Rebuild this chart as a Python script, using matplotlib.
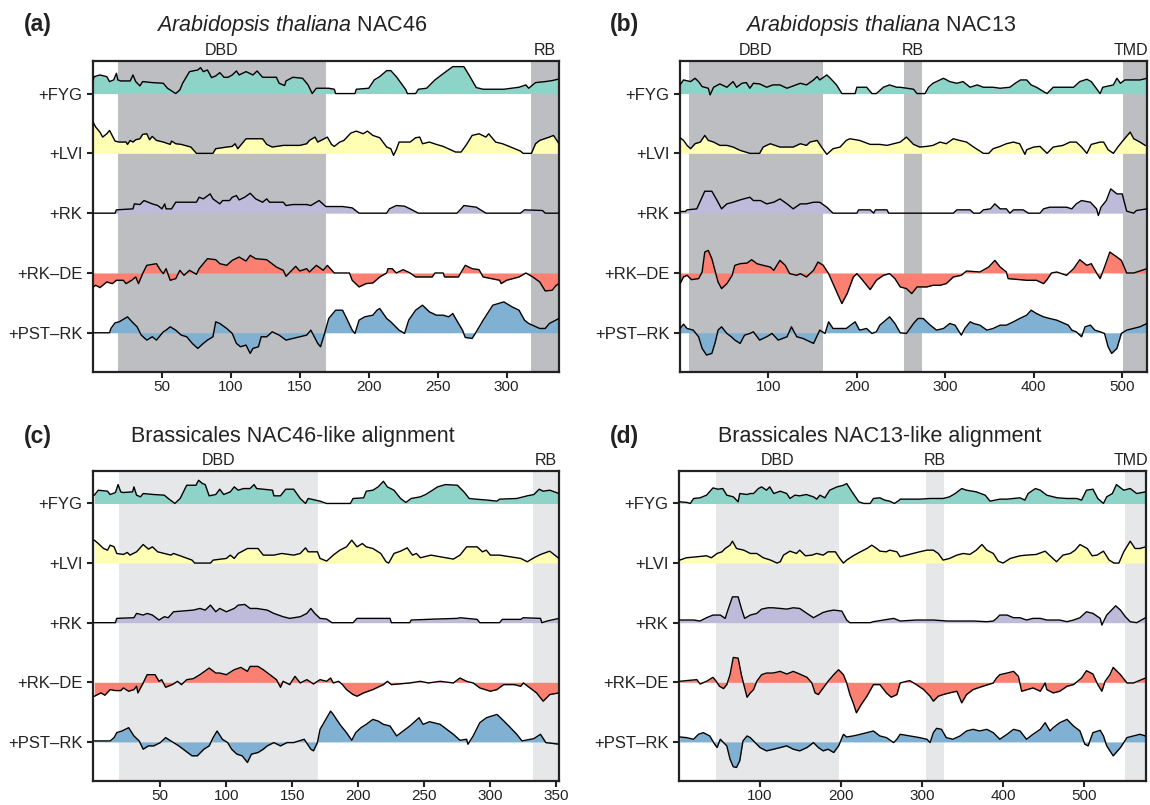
import numpy as np
import matplotlib
matplotlib.use('Agg')
import matplotlib.pyplot as plt
import matplotlib.transforms as mtransforms

plt.rcParams['font.family'] = ['Liberation Sans', 'DejaVu Sans']
plt.rcParams['mathtext.fontset'] = 'custom'
plt.rcParams['mathtext.it'] = 'Liberation Sans:italic'
plt.rcParams['mathtext.rm'] = 'Liberation Sans'

TRACKS = ['+FYG', '+LVI', '+RK', '+RK\u2013DE', '+PST\u2013RK']
COLORS = ['#8DD3C7', '#FFFFB3', '#BEBADA', '#FB8072', '#80B1D3']

# ---------------- panel (a): Arabidopsis thaliana NAC46 ----------------
A_FYG_X = [0,1,5,10,12,15,17,18,20,27,29,31,34,36,43,51,54,60,63,65,70,76,78,80,83,86,89,92,95,98,101,104,106,111,116,119,123,133,135,139,140,145,152,156,159,162,171,175,176,190,191,200,204,208,213,216,220,227,228,234,236,242,248,256,261,269,272,278,283,298,309,314,316,321,328,333,337]
A_FYG_Y = [41,51,56,51,36,41,61,41,38,38,56,36,23,36,33,31,16,0,11,31,66,71,78,66,71,48,53,63,49,49,56,68,56,66,56,68,49,49,31,24,38,49,46,26,0,16,16,13,0,0,13,16,41,51,69,69,51,11,0,0,13,16,41,66,81,81,61,18,13,13,19,26,16,33,36,39,43]
A_LVI_X = [0,2,5,7,10,12,16,19,24,25,27,29,31,34,36,39,41,43,46,51,56,57,60,64,71,75,87,89,97,101,103,105,109,111,123,126,130,138,150,155,157,161,163,170,173,175,179,182,187,191,196,199,203,208,213,216,218,220,222,230,234,237,239,244,249,254,263,267,271,275,280,285,287,292,297,303,310,312,318,321,324,331,334,338]
A_LVI_Y = [94,79,64,49,59,69,37,34,34,27,39,34,41,44,57,59,41,51,39,34,27,37,29,27,19,0,0,14,19,21,29,14,34,44,44,27,19,24,24,29,39,49,34,49,27,21,34,39,61,67,59,67,54,47,19,14,-6,11,34,34,47,49,29,34,27,21,4,4,27,54,59,49,59,34,29,19,7,0,0,29,39,49,54,29]
A_RK_X = [0,16,17,29,30,34,37,43,47,50,52,53,57,60,75,77,80,85,87,92,94,99,101,104,106,110,114,118,123,126,128,138,140,145,155,158,164,168,169,181,188,193,213,215,220,226,230,236,264,267,269,278,285,310,313,326,328,338]
A_RK_Y = [0,0,10,13,28,26,38,28,23,13,28,13,13,33,33,48,43,58,43,28,38,38,48,53,40,48,60,43,33,43,33,33,23,26,26,23,38,23,20,20,16,0,0,13,23,21,13,0,0,13,23,18,0,0,10,8,0,0]
A_RKDE_X = [0,2,5,10,14,17,22,24,28,31,33,36,39,46,49,51,53,56,60,63,66,70,75,77,80,83,89,92,97,101,106,111,114,118,126,133,138,140,143,147,150,155,157,162,167,170,175,186,188,193,198,203,208,213,214,217,220,225,230,234,246,248,254,255,265,270,275,280,283,295,296,300,309,314,319,324,328,333,336,338]
A_RKDE_Y = [-42,-37,-44,-27,-32,-22,-22,-32,-22,-12,-32,-2,23,28,8,-2,13,-22,-17,8,-7,8,-4,13,28,43,40,28,23,38,48,36,53,43,40,18,8,-10,3,20,6,13,3,23,8,23,0,0,-22,-42,-32,-30,-12,0,13,13,0,10,0,-12,-12,0,0,-12,-12,23,13,10,-12,-22,-32,-22,-12,0,-12,-27,-54,-52,-37,-32]
A_PST_X = [0,12,13,16,19,25,29,32,35,39,43,46,51,53,56,60,64,68,72,76,80,83,87,89,92,97,101,104,107,111,114,116,120,122,126,130,135,140,145,150,155,158,163,165,168,171,176,181,184,188,190,193,197,203,206,208,213,216,222,226,229,234,239,244,249,254,258,261,263,268,270,275,278,283,290,298,304,309,313,316,324,328,331,338]
A_PST_Y = [0,0,13,30,33,48,30,18,-7,-22,-12,-22,3,8,18,8,-7,-12,-32,-47,-32,-22,-12,33,28,13,-2,-32,-42,-37,-62,-47,-42,-12,-12,3,-7,-22,-17,-12,-7,8,-32,-42,-2,43,68,68,43,8,-2,38,48,53,68,73,43,33,8,-2,38,68,83,63,53,53,48,58,43,8,-14,-17,3,38,83,93,78,68,38,28,13,13,28,43]
A_DOMAINS = [('DBD', 18, 169), ('RB', 318, 338)]

# ---------------- panel (b): Arabidopsis thaliana NAC13 ----------------
B_FYG_X = [0,4,12,17,21,25,32,34,38,45,53,60,64,70,75,79,83,90,98,105,113,121,128,136,143,151,155,158,166,170,177,183,198,200,211,217,222,230,237,245,249,264,268,277,281,286,294,298,305,313,320,328,336,343,354,362,373,379,385,392,397,403,411,415,422,437,445,452,460,465,475,478,490,494,498,503,513,520,528]
B_FYG_Y = [26,41,36,46,36,21,16,-4,19,29,19,36,19,31,33,16,31,29,19,26,26,16,23,31,26,41,51,41,56,46,26,0,0,19,19,0,0,19,26,19,19,13,0,0,19,31,41,46,36,31,36,19,26,19,19,16,19,31,41,41,26,19,6,0,19,19,19,36,43,36,0,19,26,46,31,41,41,41,46]
B_LVI_X = [0,4,8,12,17,23,28,32,38,45,53,60,68,79,90,94,102,113,121,128,136,143,147,155,160,166,173,181,188,192,203,215,226,234,249,256,264,271,279,286,294,301,309,316,324,332,339,343,349,354,362,369,377,384,390,392,400,407,415,422,433,441,448,454,460,465,475,479,484,490,495,501,509,513,520,526]
B_LVI_Y = [47,39,24,14,29,34,54,39,34,24,24,19,9,0,0,19,29,19,19,19,29,24,34,39,19,-3,14,19,39,44,39,27,27,24,34,49,27,19,21,24,34,29,44,39,34,19,7,0,0,14,21,29,34,29,-3,11,19,21,0,19,24,34,34,19,0,27,34,34,11,0,19,39,64,44,34,24]
B_RK_X = [0,6,8,19,28,36,42,47,53,60,68,79,83,91,98,106,113,121,128,136,143,151,158,166,173,200,202,215,219,221,234,236,249,309,313,328,332,339,343,351,356,362,369,373,377,388,394,407,411,418,437,443,448,454,464,471,473,476,482,487,494,500,505,513,516,528]
B_RK_Y = [5,5,10,13,66,66,38,13,28,33,40,48,38,38,28,33,43,28,13,28,28,33,33,18,0,0,10,10,0,10,10,0,0,0,10,10,0,0,10,13,28,13,13,0,10,10,0,0,13,18,18,13,28,38,33,13,-7,18,38,73,58,58,6,0,8,13]
B_RKDE_X = [0,4,8,13,21,25,28,32,36,40,43,47,53,59,62,68,76,81,87,94,102,106,113,119,124,132,136,143,151,156,162,168,173,183,189,196,200,205,215,222,230,237,243,249,256,262,268,279,286,294,301,309,318,324,339,349,356,362,369,371,384,392,403,411,415,420,426,437,445,452,460,465,471,475,480,486,494,499,505,513,528]
B_RKDE_Y = [-32,-12,-7,-20,-17,3,63,68,43,3,-27,-47,-32,-7,23,28,30,40,28,23,18,8,38,23,-2,-7,-2,-12,8,33,23,-2,-32,-92,-62,-12,-2,-17,-50,-22,-7,-2,-17,-42,-47,-62,-42,-42,-37,-37,-32,-12,-7,6,3,18,38,18,3,-17,-20,-22,-22,-32,-20,0,3,-7,13,40,23,28,0,-17,18,63,48,38,0,0,13]
B_PST_X = [0,4,8,15,21,25,30,36,40,43,47,53,58,62,68,73,79,83,90,98,104,111,121,126,132,139,151,158,164,168,173,181,188,198,203,211,217,222,226,237,243,249,256,264,269,275,283,290,298,305,311,318,322,328,332,339,347,354,362,369,377,384,392,397,403,411,418,426,433,439,443,448,454,458,464,469,475,480,484,488,494,499,505,520,528]
B_PST_Y = [13,26,13,8,-12,-47,-67,-62,-27,8,18,-2,-12,-22,-32,-7,-2,3,-22,-12,-2,-22,-12,18,-12,-17,-32,8,-2,33,13,13,13,33,8,13,-2,3,23,48,28,0,-2,28,43,43,23,8,13,28,23,-7,13,33,28,23,8,13,23,23,33,43,53,68,58,48,43,38,30,23,8,3,-12,18,23,8,3,-2,-42,-62,-47,-2,8,18,28]
B_DOMAINS = [('DBD', 10, 161.5), ('RB', 253, 274), ('TMD', 500.5, 528)]

# ---------------- panel (c): Brassicales NAC46-like alignment ----------------
C_FYG_X = [0,3,10,12,16,18,20,22,29,30,32,35,37,45,53,56,61,65,70,77,79,82,84,87,92,95,98,103,106,109,113,118,121,123,128,135,136,141,145,151,156,160,162,171,176,194,196,204,206,211,215,219,222,227,232,236,240,247,251,255,260,266,275,280,284,289,298,305,307,320,328,333,337,340,345,352]
C_FYG_Y = [25,40,37,27,33,57,35,33,35,50,25,20,30,27,25,15,0,15,55,55,70,60,57,23,27,43,27,35,50,40,45,45,57,45,43,40,23,23,43,43,15,0,15,7,0,0,15,17,37,40,50,67,50,40,15,3,15,20,27,37,50,57,55,35,15,13,10,7,13,15,23,27,43,37,40,30]
C_LVI_X = [0,3,7,10,12,15,17,22,25,27,32,37,41,44,48,53,58,60,65,74,76,88,90,100,103,106,109,116,124,128,136,142,151,156,160,162,169,171,176,181,186,191,195,199,203,206,211,217,221,223,227,232,237,241,244,247,255,262,272,277,282,290,294,297,300,307,315,323,328,333,338,345,352]
C_LVI_Y = [69,59,44,39,54,49,29,26,32,24,34,56,42,49,34,29,24,29,22,9,0,0,9,14,24,14,29,44,44,24,24,29,24,29,46,34,34,14,6,24,39,49,69,49,59,49,44,29,4,0,29,36,46,24,29,16,24,19,12,24,49,49,34,39,24,24,19,14,4,16,26,36,14]
C_RK_X = [0,16,17,30,32,37,40,44,49,53,56,60,75,80,84,88,92,95,100,106,109,114,118,123,131,136,143,148,156,161,164,167,171,176,180,196,199,224,225,239,240,259,275,277,290,292,307,309,323,325,338,339,343,352]
C_RK_Y = [0,0,13,15,28,23,28,23,8,18,15,33,38,43,38,53,33,43,33,43,53,55,43,43,38,28,18,13,18,28,43,28,13,11,0,0,13,13,0,0,8,11,13,15,10,0,0,10,10,15,13,0,5,13]
C_RKDE_X = [0,5,8,12,16,20,22,26,30,32,33,37,40,46,49,51,54,59,63,66,70,75,80,87,92,95,100,106,111,116,118,124,128,133,138,141,143,148,152,156,161,166,171,176,179,181,185,188,191,196,199,204,211,219,222,225,239,247,253,262,272,277,282,287,292,300,305,310,318,323,325,330,335,340,345,352]
C_RKDE_Y = [-42,-32,-39,-22,-25,-25,-17,-27,-22,-12,-32,-2,23,23,3,8,-15,-7,3,-7,8,11,23,43,28,28,23,38,45,33,48,48,38,23,8,-15,3,-7,18,-2,8,-5,8,3,13,-2,3,-7,-22,-37,-42,-32,-22,-7,3,-7,-2,3,-2,3,-2,13,3,-2,-17,-27,-22,-7,-7,-12,-2,-17,-32,-57,-37,-32]
C_PST_X = [0,12,15,17,21,26,30,34,37,41,45,50,54,56,60,64,69,74,78,83,87,90,93,97,101,104,108,112,116,119,124,128,131,136,141,146,151,159,164,166,169,171,179,181,186,191,195,198,202,206,211,215,219,224,229,234,239,246,249,254,262,267,272,277,282,283,287,292,297,305,309,314,320,324,333,338,342,352]
C_PST_Y = [3,3,13,28,33,43,18,3,-22,-12,-12,-2,13,8,-2,-12,-27,-42,-42,-22,-12,13,33,8,-2,-22,-37,-42,-62,-37,-32,-22,-12,-2,-12,-2,-2,8,-22,-27,-2,38,93,83,53,28,5,28,43,53,68,63,53,48,18,33,48,73,53,61,53,38,23,5,8,-7,18,58,73,83,68,48,23,3,10,23,-2,-7]
C_DOMAINS = [('DBD', 19, 169.5), ('RB', 332, 352)]

# ---------------- panel (d): Brassicales NAC13-like alignment ----------------
D_FYG_X = [1,10,14,18,26,34,42,48,54,59,67,73,75,84,88,92,98,102,108,112,117,125,133,137,143,149,157,166,170,174,180,186,195,203,207,211,215,222,228,236,240,248,254,260,266,272,273,297,310,326,334,341,349,355,367,378,384,396,405,421,427,431,440,446,454,467,479,491,497,503,511,517,524,528,535,540,549,557,565,576]
D_FYG_Y = [5,3,0,15,17,25,47,43,45,25,20,5,30,27,30,30,45,50,40,50,30,37,30,15,25,23,27,20,13,25,17,40,50,55,60,45,30,5,0,0,15,17,10,7,0,10,13,13,15,15,20,30,45,40,35,25,7,13,13,17,10,30,45,40,25,17,15,15,10,40,43,15,0,20,30,57,40,45,30,35]
D_LVI_X = [1,9,22,34,40,47,53,57,63,66,71,80,88,96,104,113,121,125,129,137,145,149,156,164,170,178,184,193,197,201,203,207,215,224,232,238,244,248,256,260,269,273,281,289,297,306,314,320,326,334,343,351,359,367,374,380,388,394,400,409,421,429,441,452,458,466,474,483,489,495,504,510,516,524,531,537,543,549,557,563,569,576]
D_LVI_Y = [9,16,19,22,16,29,34,44,54,66,44,39,29,29,16,9,0,4,24,36,29,39,22,24,29,24,34,34,19,6,0,9,22,34,44,54,44,36,34,39,34,19,24,29,34,39,39,29,9,14,24,29,26,39,56,39,29,6,0,14,22,24,26,36,22,4,24,29,39,56,44,22,24,36,9,0,0,34,66,44,44,49]
D_RK_X = [1,18,26,34,42,51,57,61,66,73,77,81,88,96,102,110,116,125,133,141,149,158,166,172,178,184,191,201,207,211,236,240,265,273,293,314,331,348,364,380,388,392,396,405,413,421,429,437,446,454,470,479,487,495,503,511,520,522,528,534,539,545,551,557,565,576]
D_RK_Y = [8,8,5,15,23,23,13,43,78,78,43,13,23,28,41,45,45,43,41,45,43,28,15,23,31,35,38,35,8,0,0,3,13,5,8,8,5,5,5,3,5,13,23,23,15,15,8,13,13,8,8,3,8,15,33,28,13,-7,23,38,51,38,18,3,0,15]
D_RKDE_X = [1,9,22,26,34,42,46,50,55,59,63,67,73,77,80,84,88,92,96,102,108,116,125,133,141,149,158,164,168,172,178,184,191,197,203,207,211,215,219,225,232,240,248,256,262,269,273,281,285,293,302,310,314,320,326,334,343,349,355,363,375,388,392,396,405,413,419,423,437,446,452,454,462,470,479,487,497,503,511,517,522,526,532,536,545,553,561,576]
D_RKDE_Y = [3,5,8,-5,3,15,3,-12,-19,-7,23,75,73,23,-7,-45,-32,-22,3,23,28,28,33,25,33,25,15,-2,-32,-37,-17,3,23,38,23,-2,-37,-62,-92,-67,-42,-7,-7,-32,-45,-37,-2,3,5,-7,-22,-42,-57,-42,-37,-32,-27,-62,-37,-22,-12,-2,13,23,28,33,18,-27,-17,-27,-2,-22,-32,-27,-12,-7,13,35,25,-7,-27,3,23,45,23,-2,-2,13]
D_PST_X = [1,9,18,24,30,38,44,47,51,59,63,67,71,75,79,84,88,94,100,108,117,125,133,141,149,158,166,172,178,184,191,197,203,207,215,224,232,240,248,256,265,269,273,285,297,306,310,314,318,324,330,338,347,355,363,371,380,388,396,405,413,421,429,437,446,452,458,462,470,479,487,495,501,505,511,520,524,528,536,545,553,561,569,576]
D_PST_Y = [15,13,8,23,28,18,-7,-17,8,-12,-52,-75,-77,-57,3,18,13,-2,-17,-27,-22,-17,-12,-22,-27,-17,-2,-17,-27,-22,-32,-12,23,15,18,23,28,33,18,13,-2,8,23,18,13,8,-2,28,41,38,13,8,18,33,38,33,38,28,8,23,38,33,8,23,38,58,33,43,58,68,48,33,-7,-12,28,35,18,-12,-42,-17,13,18,23,18]
D_DOMAINS = [('DBD', 45.4, 197.5), ('RB', 305, 327), ('TMD', 551, 576.5)]

# ---------------- layout ----------------
W, H = 1150, 805
SPACING = 180
fig = plt.figure(figsize=(W / 100, H / 100), dpi=100)
renderer = fig.canvas.get_renderer()

panels = [
    dict(rect=(93, 61, 559, 372), data=[(A_FYG_X, A_FYG_Y), (A_LVI_X, A_LVI_Y), (A_RK_X, A_RK_Y), (A_RKDE_X, A_RKDE_Y), (A_PST_X, A_PST_Y)],
         xlim=(0, 338), xticks=[50, 100, 150, 200, 250, 300], dom=A_DOMAINS, shade='#BDBEC2',
         letter='(a)', lx=24, title=r'$\mathit{Arabidopsis\ thaliana}$ NAC46', tx=292, ty=25),
    dict(rect=(680, 61, 1147, 372), data=[(B_FYG_X, B_FYG_Y), (B_LVI_X, B_LVI_Y), (B_RK_X, B_RK_Y), (B_RKDE_X, B_RKDE_Y), (B_PST_X, B_PST_Y)],
         xlim=(0, 528), xticks=[100, 200, 300, 400, 500], dom=B_DOMAINS, shade='#BDBEC2',
         letter='(b)', lx=610, title=r'$\mathit{Arabidopsis\ thaliana}$ NAC13', tx=880, ty=25),
    dict(rect=(93, 471, 559, 781), data=[(C_FYG_X, C_FYG_Y), (C_LVI_X, C_LVI_Y), (C_RK_X, C_RK_Y), (C_RKDE_X, C_RKDE_Y), (C_PST_X, C_PST_Y)],
         xlim=(-1, 352), xticks=[50, 100, 150, 200, 250, 300, 350], dom=C_DOMAINS, shade='#E6E7E9',
         letter='(c)', lx=24, title='Brassicales NAC46-like alignment', tx=293, ty=436),
    dict(rect=(679, 471, 1146, 781), data=[(D_FYG_X, D_FYG_Y), (D_LVI_X, D_LVI_Y), (D_RK_X, D_RK_Y), (D_RKDE_X, D_RKDE_Y), (D_PST_X, D_PST_Y)],
         xlim=(0, 576.5), xticks=[100, 200, 300, 400, 500], dom=D_DOMAINS, shade='#E6E7E9',
         letter='(d)', lx=610, title='Brassicales NAC13-like alignment', tx=880, ty=436),
]

for p in panels:
    l, t, r, b = p['rect']
    ax = fig.add_axes([l / W, 1 - b / H, (r - l) / W, (b - t) / H])
    ax.set_xlim(*p['xlim'])
    ax.set_ylim(-4 * SPACING - 118, 98)
    trans = mtransforms.blended_transform_factory(ax.transData, ax.transAxes)
    for name, s, e in p['dom']:
        ax.axvspan(s, e, color=p['shade'], lw=0, zorder=0)
        txt = ax.text((s + e) / 2, 1.01, name, transform=trans, ha='center', va='bottom',
                      fontsize=11.5, color='#222222', clip_on=False)
        bb = txt.get_window_extent(renderer=renderer)
        if bb.x1 > W - 1:
            # keep the label inside the figure: right-align it at the figure edge
            xd = ax.transData.inverted().transform((W - 1.5, 0))[0]
            txt.set_x(xd)
            txt.set_ha('right')
    for k, (xs, ys) in enumerate(p['data']):
        n = min(len(xs), len(ys))
        x = np.array(xs[:n], dtype=float)
        y = np.array(ys[:n], dtype=float)
        base = -SPACING * k
        ax.fill_between(x, base, base + y, color=COLORS[k], lw=0, zorder=2)
        ax.plot(x, base + y, color='black', lw=1.0, zorder=3)
    ax.set_yticks([-SPACING * k for k in range(5)])
    ax.set_yticklabels(TRACKS)
    ax.set_xticks(p['xticks'])
    ax.tick_params(direction='out', length=4.5, width=1.5, colors='#222222',
                   labelcolor='#222222')
    ax.tick_params(axis='y', labelsize=12, pad=3)
    ax.tick_params(axis='x', labelsize=11, pad=1.5)
    for sp in ax.spines.values():
        sp.set_linewidth(1.6)
        sp.set_color('#222222')
    fig.text(p['lx'] / W, 1 - p['ty'] / H, p['letter'], fontsize=16.5, fontweight='bold',
             ha='left', va='center', color='#222222')
    fig.text(p['tx'] / W, 1 - p['ty'] / H, p['title'], fontsize=15.5, ha='center', va='center',
             color='#222222')

fig.savefig('out.png', dpi=100)
